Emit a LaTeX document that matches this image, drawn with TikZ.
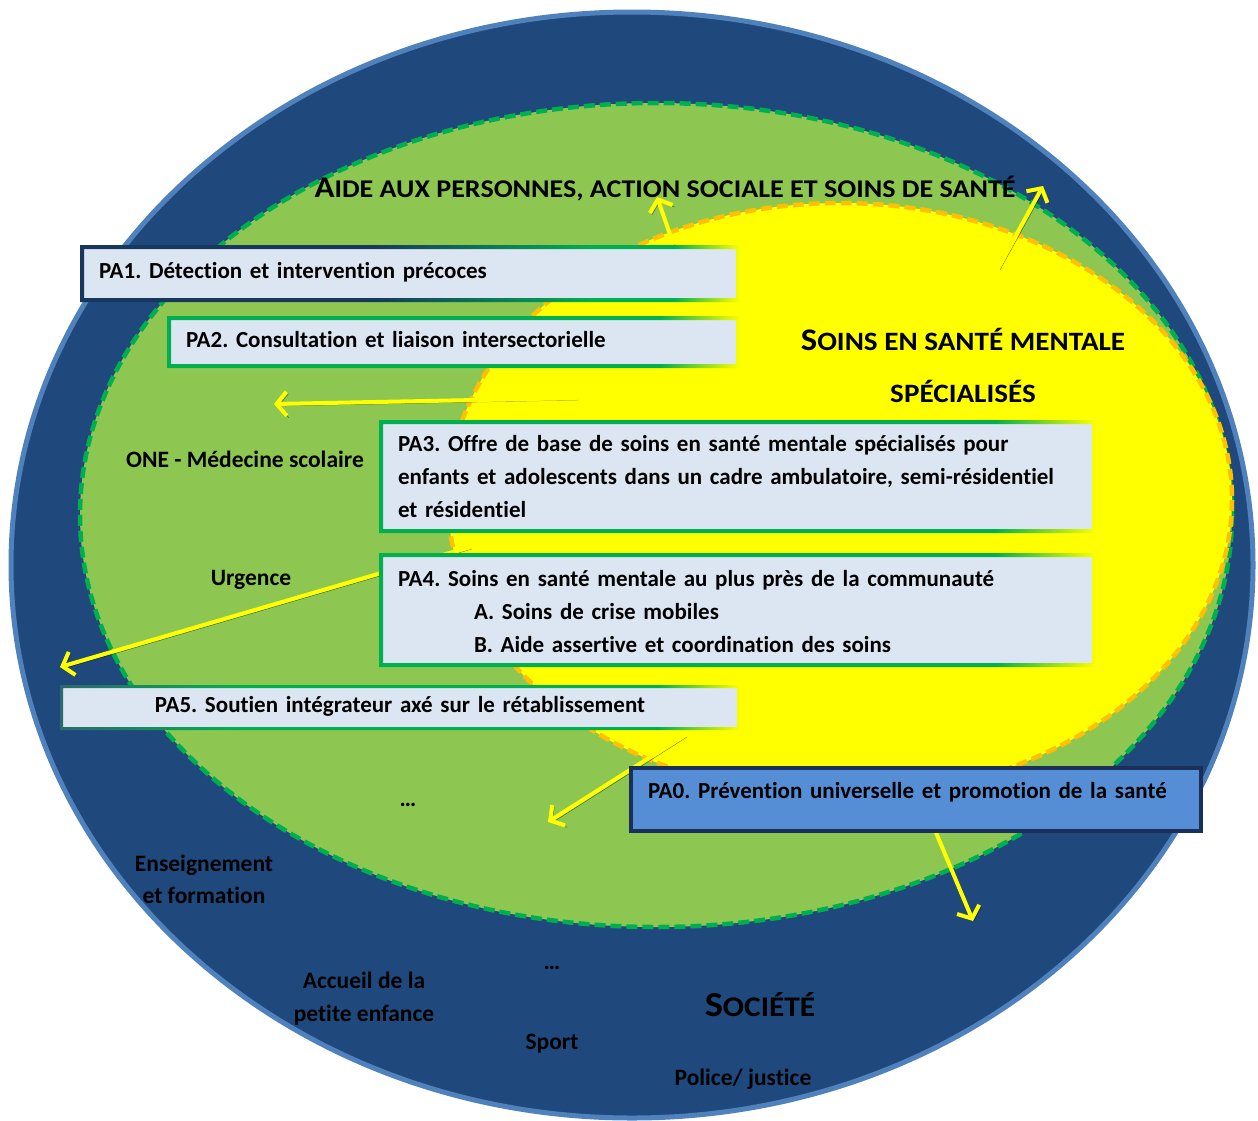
\documentclass[tikz,border=0pt]{standalone}
\usepackage{fontspec}
\setmainfont{Carlito}[Ligatures=NoCommon]
\newfontfamily\widefont{Carlito}[FakeStretch=1.1, Ligatures=NoCommon]
\usetikzlibrary{arrows.meta}
\definecolor{navyfill}{HTML}{1F497D}
\definecolor{navyline}{HTML}{4F81BD}
\definecolor{greenfill}{HTML}{8DC752}
\definecolor{greendash}{HTML}{00B050}
\definecolor{yellowfill}{HTML}{FFFF00}
\definecolor{orangedash}{HTML}{FFC000}
\definecolor{boxfill}{HTML}{DCE6F2}
\definecolor{boxnavy}{HTML}{17375E}
\definecolor{pafivedark}{HTML}{2B6A6E}
\definecolor{pa0fill}{HTML}{558ED5}
\definecolor{pa0line}{HTML}{1A2F5A}
\pgfdeclarehorizontalshading{ringpaone}{100bp}{color(0bp)=(boxnavy); color(25bp)=(boxnavy); color(47bp)=(boxnavy); color(64bp)=(greendash); color(70bp)=(greendash); color(75bp)=(yellowfill); color(100bp)=(yellowfill)}
\pgfdeclarehorizontalshading{ringgreen}{100bp}{color(0bp)=(greendash); color(25bp)=(greendash); color(68bp)=(greendash); color(75bp)=(yellowfill); color(100bp)=(yellowfill)}
\pgfdeclarehorizontalshading{ringpafive}{100bp}{color(0bp)=(pafivedark); color(25bp)=(pafivedark); color(38bp)=(greendash); color(69bp)=(greendash); color(75bp)=(yellowfill); color(100bp)=(yellowfill)}
\newcommand\scap[4]{{\widefont\fontsize{#1}{#1}\selectfont #3}{\widefont\fontsize{#2}{#2}\selectfont #4}}
\newcommand\bordring[3]{\shade[shading=#2, even odd rule] ([shift={(-#3,-#3)}]#1.north west) rectangle ([shift={(#3,#3)}]#1.south east) (#1.north west) rectangle (#1.south east);}
\begin{document}
\frenchspacing
\begin{tikzpicture}[x=1pt,y=-1pt,
  every node/.style={font=\bfseries\frenchspacing\fontsize{23}{33}\selectfont, inner sep=0pt, outer sep=0pt},
  pabox/.style={fill=boxfill, anchor=north west, inner xsep=15pt, inner ysep=0pt, align=left},
  oneline/.style={text height=14pt, text depth=4pt},
  lbl/.style={anchor=base, align=center, font=\bfseries\frenchspacing\fontsize{23.5}{33}\selectfont},
  arr/.style={draw=yellowfill, line width=4pt, line cap=round,
    -{Straight Barb[length=10pt,width=24pt]},
    preaction={draw=black, draw opacity=0.55, transform canvas={shift={(2pt,-2pt)}}}},
]
\useasboundingbox (0,0) rectangle (1258,1120);
% layers
\draw[navyline, line width=5pt, fill=navyfill] (632,565) ellipse [x radius=621, y radius=553];
\draw[greendash, line width=4.5pt, fill=greenfill, dash pattern=on 11pt off 5pt] (656,515) ellipse [x radius=576, y radius=412];
\draw[orangedash, line width=4.5pt, fill=yellowfill, dash pattern=on 11pt off 5pt] (840,500) ellipse [x radius=392, y radius=297];

% arrow coordinates
\coordinate (a1s) at (673,243); \coordinate (a1e) at (657,197);
\coordinate (a2s) at (998,268); \coordinate (a2e) at (1043,186);
\coordinate (a3s) at (577,398); \coordinate (a3e) at (274,404);
\coordinate (a4s) at (470,547); \coordinate (a4e) at (60,667);
\coordinate (a5s) at (685,735); \coordinate (a5e) at (548,822);
\coordinate (a6s) at (896,737); \coordinate (a6e) at (973,921);
\draw[arr] (a1s) -- (a1e);
\draw[arr] (a2s) -- (a2e);
\draw[arr] (a3s) -- (a3e);
\draw[arr] (a4s) -- (a4e);
\draw[arr] (a5s) -- (a5e);
\draw[arr] (a6s) -- (a6e);

% boxes
\node[pabox, oneline, minimum width=652pt, minimum height=49pt, text width=622pt] (pa1) at (84,249) {PA1. Détection et intervention précoces};
\bordring{pa1}{ringpaone}{4}
\node[pabox, oneline, minimum width=565pt, minimum height=44pt, text width=535pt] (pa2) at (171,320) {PA2. Consultation et liaison intersectorielle};
\bordring{pa2}{ringgreen}{4}
\node[pabox, minimum width=709pt, minimum height=105pt, text width=679pt, text height=20pt, text depth=70pt] (pa3) at (383,424) {PA3. Offre de base de soins en santé mentale spécialisés pour\\enfants et adolescents dans un cadre ambulatoire, semi-résidentiel\\et résidentiel};
\bordring{pa3}{ringgreen}{4}
\node[pabox, minimum width=709pt, minimum height=106pt, text width=679pt, text height=22pt, text depth=70pt] (pa4) at (383,557) {PA4. Soins en santé mentale au plus près de la communauté\\\hspace*{76pt}A. Soins de crise mobiles\\\hspace*{76pt}B. Aide assertive et coordination des soins};
\bordring{pa4}{ringgreen}{4}
\node[pabox, oneline, align=center, minimum width=674pt, minimum height=39pt, text width=644pt] (pa5) at (63,688) {PA5. Soutien intégrateur axé sur le rétablissement};
\bordring{pa5}{ringpafive}{3}
\node[pabox, draw=pa0line, fill=pa0fill, line width=4pt, minimum width=566pt, minimum height=63pt, text width=536pt, inner xsep=17pt, inner ysep=16pt, text height=14pt, text depth=17pt] (pa0) at (631,768) {PA0. Prévention universelle et promotion de la santé};

% labels
\node[lbl] (title) at (665,197) {\scap{30}{25.5}{A}{IDE AUX PERSONNES, ACTION SOCIALE ET SOINS DE SANTÉ}};
\node[lbl] (ssm1) at (963,350) {\scap{31.5}{26.5}{S}{OINS EN SANTÉ MENTALE}};
\node[lbl] (ssm2) at (963,402) {\scap{26.5}{26.5}{}{SPÉCIALISÉS}};
\node[lbl] (one) at (245,467) {ONE - Médecine scolaire};
\node[lbl] (urg) at (251,585) {Urgence};
\node[lbl] (dots1) at (408,806) {…};
\node[lbl] (ens1) at (204,871) {Enseignement};
\node[lbl] (ens2) at (204,903) {et formation};
\node[lbl] (dots2) at (552,969) {…};
\node[lbl] (acc1) at (364,988) {Accueil de la};
\node[lbl] (acc2) at (364,1021) {petite enfance};
\node[lbl] (soc) at (760,1016) {\scap{35}{28.5}{S}{OCIÉTÉ}};
\node[lbl] (sport) at (552,1049) {Sport};
\node[lbl] (police) at (743,1085) {Police/ justice};
\end{tikzpicture}
\end{document}
